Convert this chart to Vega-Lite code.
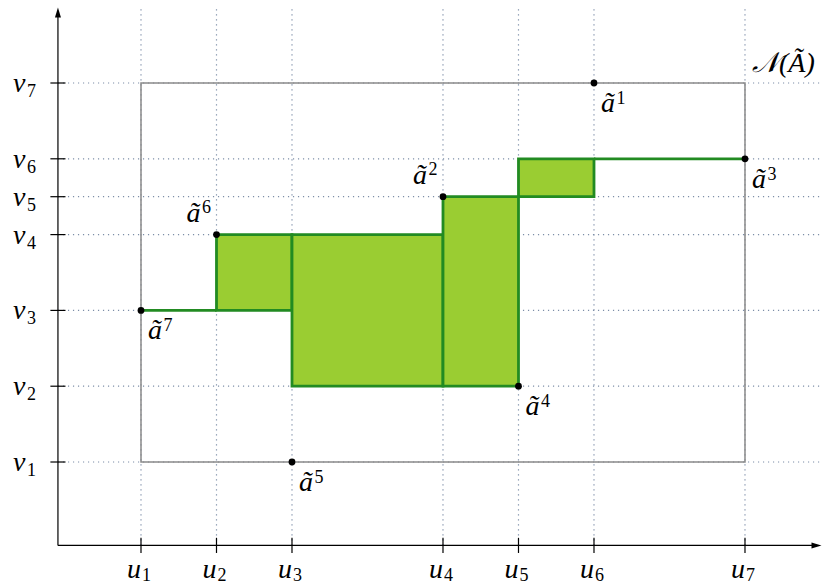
{
  "$schema": "https://vega.github.io/schema/vega-lite/v6.json",
  "width": 822,
  "height": 587,
  "autosize": {"type": "none"},
  "padding": 0,
  "background": "white",
  "config": {"view": {"stroke": null}, "text": {"font": "Liberation Serif"}},
  "datasets": {
    "u": [
      {"label": "u", "index": "1", "x": 1},
      {"label": "u", "index": "2", "x": 2},
      {"label": "u", "index": "3", "x": 3},
      {"label": "u", "index": "4", "x": 5},
      {"label": "u", "index": "5", "x": 6},
      {"label": "u", "index": "6", "x": 7},
      {"label": "u", "index": "7", "x": 9}
    ],
    "v": [
      {"label": "v", "index": "1", "y": 1},
      {"label": "v", "index": "2", "y": 2},
      {"label": "v", "index": "3", "y": 3},
      {"label": "v", "index": "4", "y": 4},
      {"label": "v", "index": "5", "y": 4.5},
      {"label": "v", "index": "6", "y": 5},
      {"label": "v", "index": "7", "y": 6}
    ],
    "box": [{"x1": 1, "x2": 9, "y1": 1, "y2": 6, "label": "𝒩(Ã)"}],
    "cells": [
      {"x1": 2, "x2": 3, "y1": 3, "y2": 4},
      {"x1": 3, "x2": 5, "y1": 2, "y2": 4},
      {"x1": 5, "x2": 6, "y1": 2, "y2": 4.5},
      {"x1": 6, "x2": 7, "y1": 4.5, "y2": 5}
    ],
    "steps": [
      {"x1": 1, "x2": 2, "y1": 3, "y2": 3},
      {"x1": 7, "x2": 9, "y1": 5, "y2": 5}
    ],
    "points": [
      {"label": "ã", "index": "1", "x": 7, "y": 6, "side": "below right"},
      {"label": "ã", "index": "2", "x": 5, "y": 4.5, "side": "above left"},
      {"label": "ã", "index": "3", "x": 9, "y": 5, "side": "below right"},
      {"label": "ã", "index": "4", "x": 6, "y": 2, "side": "below right"},
      {"label": "ã", "index": "5", "x": 3, "y": 1, "side": "below right"},
      {"label": "ã", "index": "6", "x": 2, "y": 4, "side": "above left"},
      {"label": "ã", "index": "7", "x": 1, "y": 3, "side": "below right"}
    ]
  },
  "layer": [
    {
      "data": {"name": "u"},
      "mark": {"type": "rule", "color": "#7d8ea8", "strokeWidth": 1.2, "strokeDash": [1.2, 3.8]},
      "encoding": {
        "x": {"field": "x", "type": "quantitative", "axis": null, "scale": {"domain": [-0.8675, 10.02], "nice": false, "zero": false}},
        "y": {"datum": -0.1, "type": "quantitative", "axis": null, "scale": {"domain": [-0.649, 7.095], "nice": false, "zero": false}},
        "y2": {"datum": 7.0}
      }
    },
    {
      "data": {"name": "v"},
      "mark": {"type": "rule", "color": "#7d8ea8", "strokeWidth": 1.2, "strokeDash": [1.2, 3.8]},
      "encoding": {
        "y": {"field": "y", "type": "quantitative", "axis": null, "scale": {"domain": [-0.649, 7.095], "nice": false, "zero": false}},
        "x": {"datum": -0.1, "type": "quantitative", "axis": null, "scale": {"domain": [-0.8675, 10.02], "nice": false, "zero": false}},
        "x2": {"datum": 10.02}
      }
    },
    {
      "data": {"name": "box"},
      "mark": {"type": "rect", "fillOpacity": 0, "stroke": "#8a8a8a", "strokeWidth": 1.5},
      "encoding": {
        "x": {"field": "x1", "type": "quantitative", "axis": null, "scale": {"domain": [-0.8675, 10.02], "nice": false, "zero": false}},
        "x2": {"field": "x2"},
        "y": {"field": "y1", "type": "quantitative", "axis": null, "scale": {"domain": [-0.649, 7.095], "nice": false, "zero": false}},
        "y2": {"field": "y2"}
      }
    },
    {
      "data": {"name": "cells"},
      "mark": {"type": "rect", "fill": "#9acd32", "stroke": "#228b22", "strokeWidth": 2.8},
      "encoding": {
        "x": {"field": "x1", "type": "quantitative", "axis": null, "scale": {"domain": [-0.8675, 10.02], "nice": false, "zero": false}},
        "x2": {"field": "x2"},
        "y": {"field": "y1", "type": "quantitative", "axis": null, "scale": {"domain": [-0.649, 7.095], "nice": false, "zero": false}},
        "y2": {"field": "y2"}
      }
    },
    {
      "data": {"name": "steps"},
      "mark": {"type": "rule", "color": "#228b22", "strokeWidth": 2.8},
      "encoding": {
        "x": {"field": "x1", "type": "quantitative", "axis": null, "scale": {"domain": [-0.8675, 10.02], "nice": false, "zero": false}},
        "x2": {"field": "x2"},
        "y": {"field": "y1", "type": "quantitative", "axis": null, "scale": {"domain": [-0.649, 7.095], "nice": false, "zero": false}},
        "y2": {"field": "y2"}
      }
    },
    {
      "data": {"values": [{}]},
      "mark": {"type": "rule", "color": "black", "strokeWidth": 1.2},
      "encoding": {
        "x": {"datum": -0.1, "type": "quantitative", "axis": null, "scale": {"domain": [-0.8675, 10.02], "nice": false, "zero": false}},
        "x2": {"datum": 9.95},
        "y": {"datum": -0.1, "type": "quantitative", "axis": null, "scale": {"domain": [-0.649, 7.095], "nice": false, "zero": false}}
      }
    },
    {
      "data": {"values": [{}]},
      "mark": {"type": "rule", "color": "black", "strokeWidth": 1.2},
      "encoding": {
        "x": {"datum": -0.1, "type": "quantitative", "axis": null, "scale": {"domain": [-0.8675, 10.02], "nice": false, "zero": false}},
        "y": {"datum": -0.1, "type": "quantitative", "axis": null, "scale": {"domain": [-0.649, 7.095], "nice": false, "zero": false}},
        "y2": {"datum": 6.93}
      }
    },
    {
      "data": {"values": [{}]},
      "mark": {"type": "point", "shape": "M-1,-0.6L1,0L-1,0.6Z", "filled": true, "color": "black", "opacity": 1, "size": 100},
      "encoding": {
        "x": {"datum": 9.947, "type": "quantitative", "axis": null, "scale": {"domain": [-0.8675, 10.02], "nice": false, "zero": false}},
        "y": {"datum": -0.1, "type": "quantitative", "axis": null, "scale": {"domain": [-0.649, 7.095], "nice": false, "zero": false}}
      }
    },
    {
      "data": {"values": [{}]},
      "mark": {"type": "point", "shape": "M-0.6,1L0,-1L0.6,1Z", "filled": true, "color": "black", "opacity": 1, "size": 100},
      "encoding": {
        "x": {"datum": -0.1, "type": "quantitative", "axis": null, "scale": {"domain": [-0.8675, 10.02], "nice": false, "zero": false}},
        "y": {"datum": 6.93, "type": "quantitative", "axis": null, "scale": {"domain": [-0.649, 7.095], "nice": false, "zero": false}}
      }
    },
    {
      "data": {"name": "u"},
      "mark": {"type": "rule", "color": "black", "strokeWidth": 1.2},
      "encoding": {
        "x": {"field": "x", "type": "quantitative", "axis": null, "scale": {"domain": [-0.8675, 10.02], "nice": false, "zero": false}},
        "y": {"datum": -0.2, "type": "quantitative", "axis": null, "scale": {"domain": [-0.649, 7.095], "nice": false, "zero": false}},
        "y2": {"datum": 0.0}
      }
    },
    {
      "data": {"name": "v"},
      "mark": {"type": "rule", "color": "black", "strokeWidth": 1.2},
      "encoding": {
        "y": {"field": "y", "type": "quantitative", "axis": null, "scale": {"domain": [-0.649, 7.095], "nice": false, "zero": false}},
        "x": {"datum": -0.2, "type": "quantitative", "axis": null, "scale": {"domain": [-0.8675, 10.02], "nice": false, "zero": false}},
        "x2": {"datum": 0.0}
      }
    },
    {
      "data": {"name": "points"},
      "mark": {"type": "circle", "color": "black", "opacity": 1, "size": 46},
      "encoding": {
        "x": {"field": "x", "type": "quantitative", "axis": null, "scale": {"domain": [-0.8675, 10.02], "nice": false, "zero": false}},
        "y": {"field": "y", "type": "quantitative", "axis": null, "scale": {"domain": [-0.649, 7.095], "nice": false, "zero": false}}
      }
    },
    {
      "data": {"name": "u"},
      "mark": {"type": "text", "fontStyle": "italic", "fontSize": 28, "align": "left", "baseline": "alphabetic", "dx": -14, "dy": 32.5},
      "encoding": {
        "x": {"field": "x", "type": "quantitative", "axis": null, "scale": {"domain": [-0.8675, 10.02], "nice": false, "zero": false}},
        "y": {"datum": -0.1, "type": "quantitative", "axis": null, "scale": {"domain": [-0.649, 7.095], "nice": false, "zero": false}},
        "text": {"field": "label"}
      }
    },
    {
      "data": {"name": "u"},
      "mark": {"type": "text", "fontSize": 18, "align": "left", "baseline": "alphabetic", "dx": 1, "dy": 35.5},
      "encoding": {
        "x": {"field": "x", "type": "quantitative", "axis": null, "scale": {"domain": [-0.8675, 10.02], "nice": false, "zero": false}},
        "y": {"datum": -0.1, "type": "quantitative", "axis": null, "scale": {"domain": [-0.649, 7.095], "nice": false, "zero": false}},
        "text": {"field": "index"}
      }
    },
    {
      "data": {"name": "v"},
      "mark": {"type": "text", "fontStyle": "italic", "fontSize": 28, "align": "left", "baseline": "alphabetic", "dx": -45, "dy": 9},
      "encoding": {
        "y": {"field": "y", "type": "quantitative", "axis": null, "scale": {"domain": [-0.649, 7.095], "nice": false, "zero": false}},
        "x": {"datum": -0.1, "type": "quantitative", "axis": null, "scale": {"domain": [-0.8675, 10.02], "nice": false, "zero": false}},
        "text": {"field": "label"}
      }
    },
    {
      "data": {"name": "v"},
      "mark": {"type": "text", "fontSize": 18, "align": "left", "baseline": "alphabetic", "dx": -31, "dy": 14},
      "encoding": {
        "y": {"field": "y", "type": "quantitative", "axis": null, "scale": {"domain": [-0.649, 7.095], "nice": false, "zero": false}},
        "x": {"datum": -0.1, "type": "quantitative", "axis": null, "scale": {"domain": [-0.8675, 10.02], "nice": false, "zero": false}},
        "text": {"field": "index"}
      }
    },
    {
      "data": {"name": "points"},
      "transform": [{"filter": "datum.side === 'below right'"}],
      "mark": {"type": "text", "fontStyle": "italic", "fontSize": 28, "align": "left", "baseline": "alphabetic", "dx": 7, "dy": 29},
      "encoding": {
        "x": {"field": "x", "type": "quantitative", "axis": null, "scale": {"domain": [-0.8675, 10.02], "nice": false, "zero": false}},
        "y": {"field": "y", "type": "quantitative", "axis": null, "scale": {"domain": [-0.649, 7.095], "nice": false, "zero": false}},
        "text": {"field": "label"}
      }
    },
    {
      "data": {"name": "points"},
      "transform": [{"filter": "datum.side === 'below right'"}],
      "mark": {"type": "text", "fontSize": 18, "align": "left", "baseline": "alphabetic", "dx": 22.5, "dy": 21},
      "encoding": {
        "x": {"field": "x", "type": "quantitative", "axis": null, "scale": {"domain": [-0.8675, 10.02], "nice": false, "zero": false}},
        "y": {"field": "y", "type": "quantitative", "axis": null, "scale": {"domain": [-0.649, 7.095], "nice": false, "zero": false}},
        "text": {"field": "index"}
      }
    },
    {
      "data": {"name": "points"},
      "transform": [{"filter": "datum.side === 'above left'"}],
      "mark": {"type": "text", "fontStyle": "italic", "fontSize": 28, "align": "left", "baseline": "alphabetic", "dx": -30, "dy": -13},
      "encoding": {
        "x": {"field": "x", "type": "quantitative", "axis": null, "scale": {"domain": [-0.8675, 10.02], "nice": false, "zero": false}},
        "y": {"field": "y", "type": "quantitative", "axis": null, "scale": {"domain": [-0.649, 7.095], "nice": false, "zero": false}},
        "text": {"field": "label"}
      }
    },
    {
      "data": {"name": "points"},
      "transform": [{"filter": "datum.side === 'above left'"}],
      "mark": {"type": "text", "fontSize": 18, "align": "left", "baseline": "alphabetic", "dx": -14.5, "dy": -22},
      "encoding": {
        "x": {"field": "x", "type": "quantitative", "axis": null, "scale": {"domain": [-0.8675, 10.02], "nice": false, "zero": false}},
        "y": {"field": "y", "type": "quantitative", "axis": null, "scale": {"domain": [-0.649, 7.095], "nice": false, "zero": false}},
        "text": {"field": "index"}
      }
    },
    {
      "data": {"name": "box"},
      "mark": {"type": "text", "fontStyle": "italic", "fontSize": 28, "align": "left", "baseline": "alphabetic", "dx": 7, "dy": -11},
      "encoding": {
        "x": {"field": "x2", "type": "quantitative", "axis": null, "scale": {"domain": [-0.8675, 10.02], "nice": false, "zero": false}},
        "y": {"field": "y2", "type": "quantitative", "axis": null, "scale": {"domain": [-0.649, 7.095], "nice": false, "zero": false}},
        "text": {"field": "label"}
      }
    }
  ]
}
